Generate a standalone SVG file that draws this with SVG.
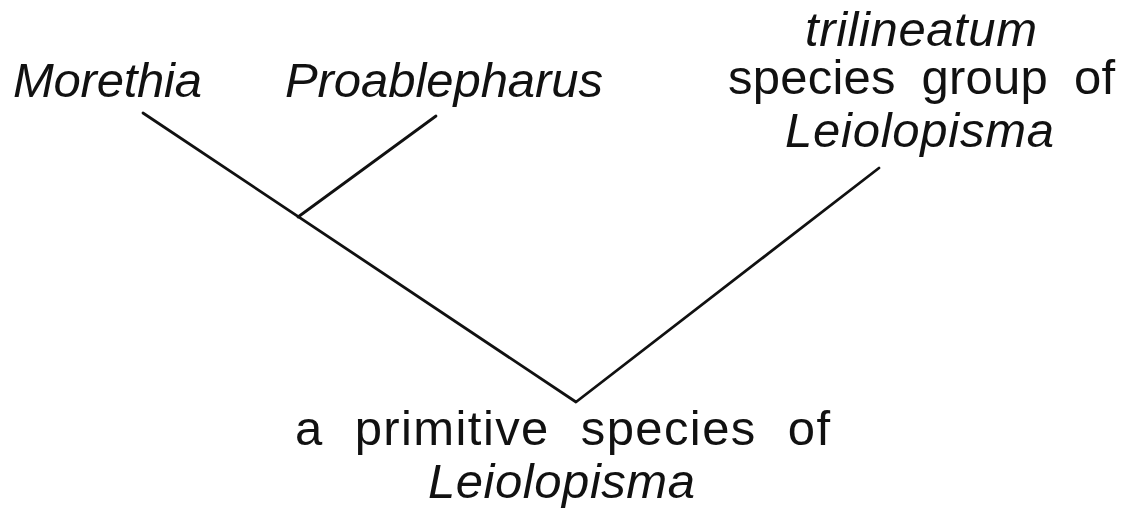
<svg xmlns="http://www.w3.org/2000/svg" width="1127" height="510" viewBox="0 0 1127 510">
  <style>
    .lbl { font-family: "Liberation Sans", Arial, sans-serif; font-size: 49px; fill: #111; }
    .it { font-style: italic; }
    .ws { word-spacing: 12px; }
    .edge { stroke: #111; stroke-width: 2.8; fill: none; stroke-linecap: round; stroke-linejoin: round; }
  </style>
  <rect width="1127" height="510" fill="#ffffff"/>
  <g id="connectors">
    <path class="edge" d="M143,113 L576,402 L879,168"/>
    <path class="edge" d="M436,116 L298,217"/>
  </g>
  <g id="node-morethia">
    <text class="lbl it" x="13" y="97" textLength="189" lengthAdjust="spacing">Morethia</text>
  </g>
  <g id="node-proablepharus">
    <text class="lbl it" x="285" y="97" textLength="318" lengthAdjust="spacing">Proablepharus</text>
  </g>
  <g id="node-trilineatum">
    <text class="lbl it" x="805" y="46" textLength="232" lengthAdjust="spacing">trilineatum</text>
    <text class="lbl ws" x="728" y="94" textLength="387" lengthAdjust="spacing">species group of</text>
    <text class="lbl it" x="785" y="147" textLength="269" lengthAdjust="spacing">Leiolopisma</text>
  </g>
  <g id="node-ancestor">
    <text class="lbl" x="295" y="445" textLength="535" lengthAdjust="spacing" style="word-spacing:16px">a primitive species of</text>
    <text class="lbl it" x="428" y="498" textLength="267" lengthAdjust="spacing">Leiolopisma</text>
  </g>
</svg>
